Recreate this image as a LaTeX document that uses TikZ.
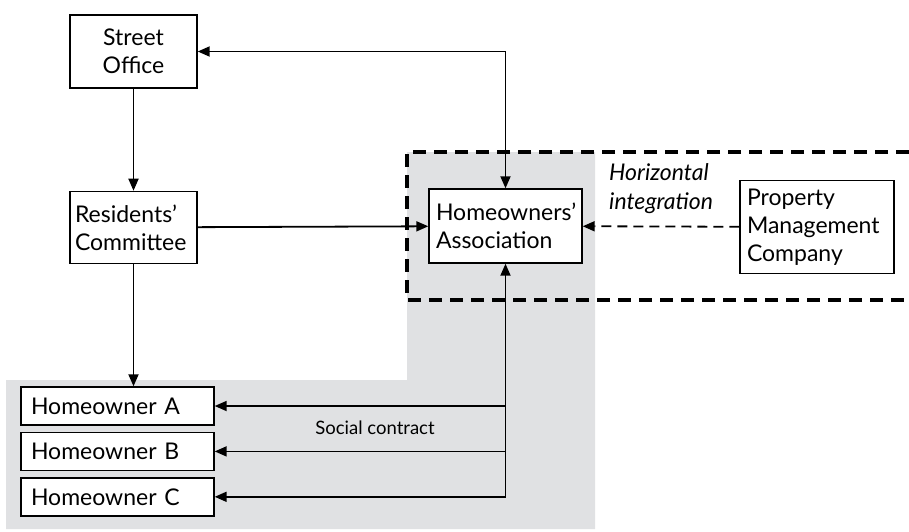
\documentclass[tikz,border=0pt]{standalone}
\usepackage{fontspec}
\setmainfont{Lato}
\usetikzlibrary{positioning,arrows.meta}

\definecolor{greyzone}{RGB}{224,225,227}

\tikzset{
  box/.style={draw,fill=white,line width=1.4pt,inner sep=0pt,font=\fontsize{23}{28}\selectfont},
  lbox/.style 2 args={box,align=left,text width=#1,inner xsep=#2},
  link/.style={line width=1.8pt,-{Triangle[length=12pt,width=10pt]}},
}

\begin{document}
\begin{tikzpicture}[x=1pt,y=-1pt,node distance=6pt]
  \useasboundingbox (0,0) rectangle (909,531);
  % grey zone behind association and homeowners
  \fill[greyzone] (407,152) -- (595,152) -- (595,529) -- (6,529) -- (6,380) -- (407,380) -- cycle;
  \draw[line width=3.2pt,dash pattern=on 13pt off 8pt] (909,152) -- (407,152) -- (407,300) -- (909,300);

  \node[box,minimum width=127pt,minimum height=73pt,align=center](street) at (133.5,51.5) {Street\\Office};
  \node[lbox={117pt}{5pt},minimum height=72pt,below=102pt of street](resid) {Residents'\\Committee};
  \node[lbox={139pt}{7pt},minimum height=74pt](assoc) at (505.5,226) {Homeowners'\\Association};
  \node[lbox={140pt}{7pt},minimum height=93pt](pmc) at (817,227) {Property\\Management\\Company};
  \node[lbox={173pt}{10pt},minimum height=38pt](homeA) at (117.5,406) {Homeowner A};
  \node[lbox={173pt}{10pt},minimum height=38pt,below=of homeA](homeB) {Homeowner B};
  \node[lbox={173pt}{10pt},minimum height=38pt,below=of homeB](homeC) {Homeowner C};
  \node[anchor=west,align=left,inner sep=0pt,font=\fontsize{23}{29}\selectfont\itshape](horiz) at (609,189) {Horizontal\\integration};
  \node[font=\fontsize{18.5}{20}\selectfont](social) at (375,428) {Social contract};

  \draw[link] (street) -- (resid);
  \draw[link,{Triangle[length=12pt,width=10pt]}-{Triangle[length=12pt,width=10pt]}] (street.east) -| (assoc.north);
  \draw[link] (resid) -- (assoc);
  \draw[link,dashed,dash pattern=on 10pt off 6pt] (pmc) -- (assoc);
  \draw[link] (resid.south) -- (resid.south |- homeA.north);
  \draw[link] (assoc.south |- homeC) -- (assoc.south);
  \draw[link] (assoc.south |- homeA) -- (homeA);
  \draw[link] (assoc.south |- homeB) -- (homeB);
  \draw[link] (assoc.south |- homeC) -- (homeC);
\end{tikzpicture}
\end{document}
